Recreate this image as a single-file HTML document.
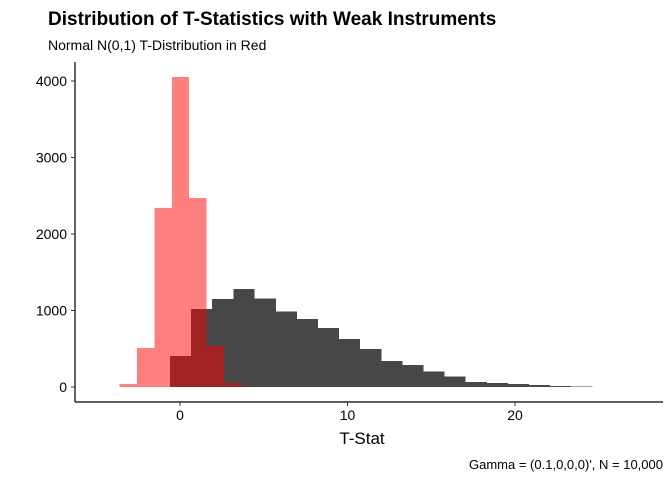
<!DOCTYPE html>
<html><head><meta charset="utf-8"><style>
body{margin:0;background:#fff;font-family:"Liberation Sans",Arial,sans-serif}
svg text{font-family:"Liberation Sans",Arial,sans-serif}
</style></head><body>
<svg id="c" width="672" height="480" viewBox="0 0 672 480">
<text x="48" y="25" font-size="19" font-weight="bold" fill="#000">Distribution of T-Statistics with Weak Instruments</text>
<text x="48" y="50" font-size="14" fill="#000">Normal N(0,1) T-Distribution in Red</text>
<g id="bars" shape-rendering="crispEdges"></g>
<line x1="75" y1="62" x2="75" y2="402" stroke="#000" stroke-width="1.2"/>
<line x1="75" y1="402" x2="663" y2="402" stroke="#000" stroke-width="1.2"/>
<g id="ticks"></g>
<text x="362" y="444" font-size="17" text-anchor="middle" fill="#000">T-Stat</text>
<text x="663" y="469" font-size="13" text-anchor="end" fill="#000">Gamma = (0.1,0,0,0)', N = 10,000</text>
</svg>
<script>
const darkStart = -0.6, darkWidth = 1.26;
const darkCounts = [405,1020,1150,1280,1160,990,890,770,630,500,340,290,200,140,65,50,40,25,15,8,3,2];
const redStart = -4.65, redWidth = 1.04;
const redCounts = [3,40,510,2340,4050,2470,536,50,5];
const xTicks = [0,10,20];
const yTicks = [0,1000,2000,3000,4000];
const X = v => 180 + v*16.75;
const Y = v => 387 - v*0.0765;
const ns = "http://www.w3.org/2000/svg";
const bars = document.getElementById('bars');
darkCounts.forEach((c,i)=>{
  const r = document.createElementNS(ns,'rect');
  const x0 = X(darkStart+i*darkWidth), x1 = X(darkStart+(i+1)*darkWidth);
  r.setAttribute('x',x0); r.setAttribute('width',x1-x0+0.3);
  r.setAttribute('y',Y(c)); r.setAttribute('height',Y(0)-Y(c));
  r.setAttribute('fill','#474747');
  
  
  bars.appendChild(r);
});
redCounts.forEach((c,i)=>{
  const r = document.createElementNS(ns,'rect');
  const x0 = X(redStart+i*redWidth), x1 = X(redStart+(i+1)*redWidth);
  r.setAttribute('x',x0); r.setAttribute('width',x1-x0);
  r.setAttribute('y',Y(c)); r.setAttribute('height',Y(0)-Y(c));
  r.setAttribute('fill','#ff0000'); r.setAttribute('fill-opacity','0.5');
  
  
  bars.appendChild(r);
});
const tk = document.getElementById('ticks');
xTicks.forEach(v=>{
  const l = document.createElementNS(ns,'line');
  l.setAttribute('x1',X(v)); l.setAttribute('x2',X(v)); l.setAttribute('y1',402); l.setAttribute('y2',406);
  l.setAttribute('stroke','#333');
  
  
  tk.appendChild(l);
  const t = document.createElementNS(ns,'text');
  t.setAttribute('x',X(v)); t.setAttribute('y',420); t.setAttribute('font-size','14');
  t.setAttribute('text-anchor','middle'); t.textContent = v;
  
  
  tk.appendChild(t);
});
yTicks.forEach(v=>{
  const l = document.createElementNS(ns,'line');
  l.setAttribute('x1',71); l.setAttribute('x2',75); l.setAttribute('y1',Y(v)); l.setAttribute('y2',Y(v));
  l.setAttribute('stroke','#333');
  
  
  tk.appendChild(l);
  const t = document.createElementNS(ns,'text');
  t.setAttribute('x',67); t.setAttribute('y',Y(v)+5); t.setAttribute('font-size','14');
  t.setAttribute('text-anchor','end'); t.textContent = v;
  
  
  tk.appendChild(t);
});
</script>
</body></html>
